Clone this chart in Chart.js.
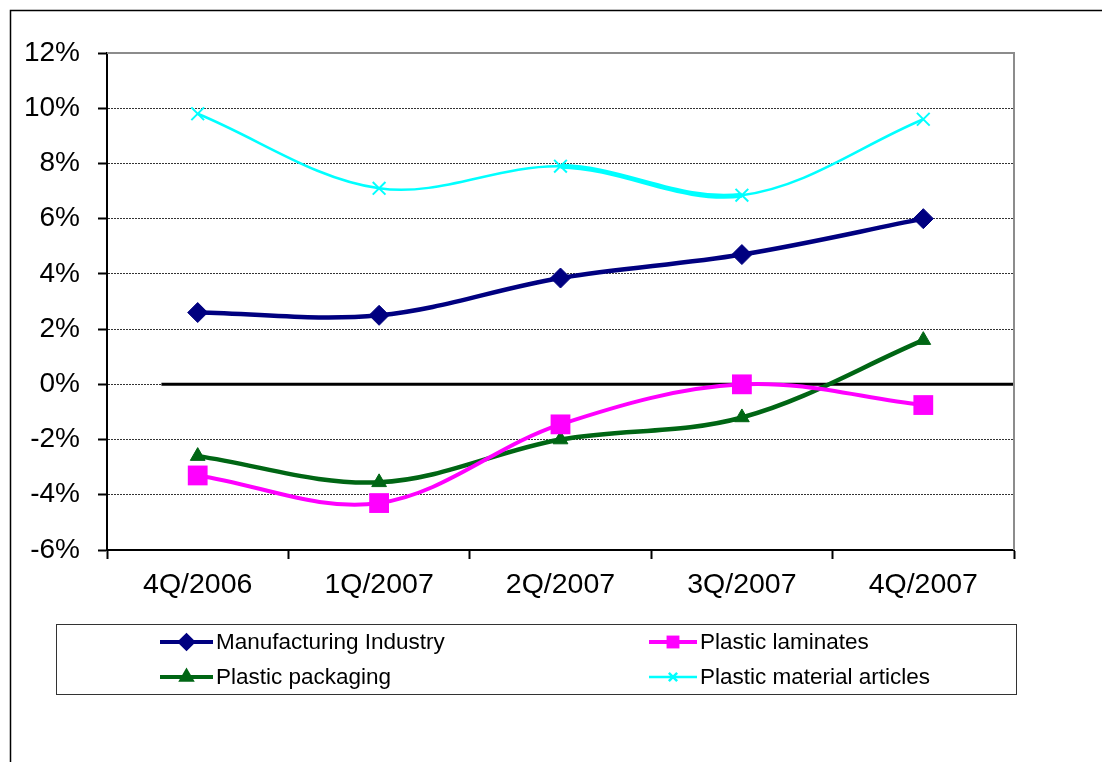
<!DOCTYPE html>
<html>
<head>
<meta charset="utf-8">
<script src="https://cdn.jsdelivr.net/npm/chart.js@4/dist/chart.umd.min.js"></script>
<style>
  html, body { margin: 0; padding: 0; background: #fff; }
  #wrap { width: 1102px; height: 762px; }
</style>
</head>
<body>
<div id="wrap"><canvas id="chart" width="1102" height="762"></canvas></div>
<script>
// quarters on the x axis
const categories = ['4Q/2006', '1Q/2007', '2Q/2007', '3Q/2007', '4Q/2007'];

// growth rates, %
const manufacturing = [2.6, 2.5, 3.85, 4.7, 6.0];
const laminates = [-3.3, -4.3, -1.45, 0.0, -0.75];
const packaging = [-2.6, -3.55, -2.0, -1.2, 1.6];
const articles = [9.8, 7.1, 7.9, 6.85, 9.6];

const seriesNames = ['Manufacturing Industry', 'Plastic laminates', 'Plastic packaging', 'Plastic material articles'];

// y axis
const yMin = -6, yMax = 12, yStep = 2;

const FONT = "'Liberation Sans', Arial, sans-serif";

// outer frame (only top + left edge visible in the original)
const framePlugin = {
  id: 'frame',
  beforeDraw(chart) {
    const ctx = chart.ctx;
    ctx.save();
    ctx.fillStyle = '#fff';
    ctx.fillRect(0, 0, chart.width, chart.height);
    ctx.strokeStyle = '#000';
    ctx.lineWidth = 1.5;
    ctx.beginPath();
    ctx.moveTo(10.5, chart.height);
    ctx.lineTo(10.5, 10.5);
    ctx.lineTo(chart.width, 10.5);
    ctx.stroke();
    ctx.restore();
  }
};

// zero line + grey plot border (top/right)
const refPlugin = {
  id: 'refs',
  beforeDatasetsDraw(chart) {
    const { ctx, chartArea: a, scales } = chart;
    ctx.save();
    ctx.strokeStyle = '#8c8c8c';
    ctx.lineWidth = 2;
    ctx.beginPath();
    ctx.moveTo(a.left, a.top);
    ctx.lineTo(a.right, a.top);
    ctx.lineTo(a.right, a.bottom);
    ctx.stroke();

    const y0 = scales.y.getPixelForValue(0);
    ctx.strokeStyle = '#000';
    ctx.lineWidth = 3;
    ctx.beginPath();
    ctx.moveTo(scales.x.getPixelForValue(-0.2), y0);
    ctx.lineTo(a.right - 1, y0);
    ctx.stroke();
    ctx.restore();
  }
};

// two-column boxed legend under the chart
const legendPlugin = {
  id: 'boxLegend',
  afterDraw(chart) {
    const ctx = chart.ctx;
    const box = { x: 56.5, y: 624.5, w: 960, h: 70 };
    const cols = [{ x0: 160, x1: 213 }, { x0: 649, x1: 697 }];
    const rows = [642, 677];
    ctx.save();
    ctx.strokeStyle = '#333';
    ctx.lineWidth = 1;
    ctx.strokeRect(box.x, box.y, box.w, box.h);

    chart.data.datasets.forEach((ds, i) => {
      const c = cols[i % 2];
      const y = rows[Math.floor(i / 2)];
      ctx.strokeStyle = ds.borderColor;
      ctx.lineWidth = Math.min(ds.borderWidth, 4);
      ctx.beginPath();
      ctx.moveTo(c.x0, y);
      ctx.lineTo(c.x1, y);
      ctx.stroke();

      ctx.fillStyle = ds.pointBackgroundColor;
      ctx.strokeStyle = ds.pointBorderColor;
      Chart.helpers.drawPoint(ctx, {
        pointStyle: ds.pointStyle,
        radius: ds.pointRadius * 0.65,
        rotation: 0,
        borderWidth: ds.pointBorderWidth
      }, (c.x0 + c.x1) / 2, y);

      ctx.fillStyle = '#000';
      ctx.font = '22.5px ' + FONT;
      ctx.textAlign = 'left';
      ctx.textBaseline = 'middle';
      ctx.fillText(ds.label, c.x1 + 3, y + 1);
    });
    ctx.restore();
  }
};

new Chart(document.getElementById('chart'), {
  type: 'line',
  data: {
    labels: categories,
    datasets: [
      {
        label: seriesNames[0],
        data: manufacturing,
        borderColor: '#000080',
        borderWidth: 4.5,
        pointStyle: 'rectRot',
        pointRadius: 10,
        pointBackgroundColor: '#000080',
        pointBorderColor: '#000080',
        pointBorderWidth: 1,
        tension: 0.35
      },
      {
        label: seriesNames[1],
        data: laminates,
        borderColor: '#ff00ff',
        borderWidth: 4,
        pointStyle: 'rect',
        pointRadius: 14,
        pointBackgroundColor: '#ff00ff',
        pointBorderColor: '#ff00ff',
        pointBorderWidth: 0,
        tension: 0.35
      },
      {
        label: seriesNames[2],
        data: packaging,
        borderColor: '#006614',
        borderWidth: 4.5,
        pointStyle: 'triangle',
        pointRadius: 8.5,
        pointBackgroundColor: '#006614',
        pointBorderColor: '#006614',
        pointBorderWidth: 1,
        tension: 0.35
      },
      {
        label: seriesNames[3],
        data: articles,
        borderColor: '#00ffff',
        borderWidth: 2.5,
        segment: {
          borderWidth: c => (c.p0DataIndex === 2 ? 5 : 2.5)
        },
        pointStyle: 'crossRot',
        pointRadius: 9,
        pointBackgroundColor: '#00ffff',
        pointBorderColor: '#00ffff',
        pointBorderWidth: 2,
        tension: 0.35
      }
    ]
  },
  options: {
    responsive: false,
    animation: false,
    events: [],
    layout: { padding: { top: 53, right: 88, left: 0, bottom: 0 } },
    plugins: {
      legend: { display: false },
      tooltip: { enabled: false },
      title: { display: false }
    },
    scales: {
      x: {
        offset: true,
        afterFit: s => { s.height = 212; },
        grid: {
          offset: true,
          drawOnChartArea: false,
          drawTicks: true,
          tickLength: 9,
          tickWidth: 2,
          tickColor: '#000'
        },
        border: { display: true, color: '#000', width: 2 },
        ticks: {
          color: '#000',
          padding: 9,
          maxRotation: 0,
          font: { family: FONT, size: 28.5 }
        }
      },
      y: {
        min: yMin,
        max: yMax,
        afterFit: s => { s.width = 107; },
        grid: {
          color: '#333',
          lineWidth: 1,
          drawTicks: true,
          tickLength: 9,
          tickWidth: 2,
          tickColor: '#000'
        },
        border: { display: true, color: '#000', width: 2, dash: [2, 1] },
        ticks: {
          stepSize: yStep,
          color: '#000',
          padding: 18,
          font: { family: FONT, size: 28 },
          callback: v => v + '%'
        }
      }
    }
  },
  plugins: [framePlugin, refPlugin, legendPlugin]
});
</script>
</body>
</html>
